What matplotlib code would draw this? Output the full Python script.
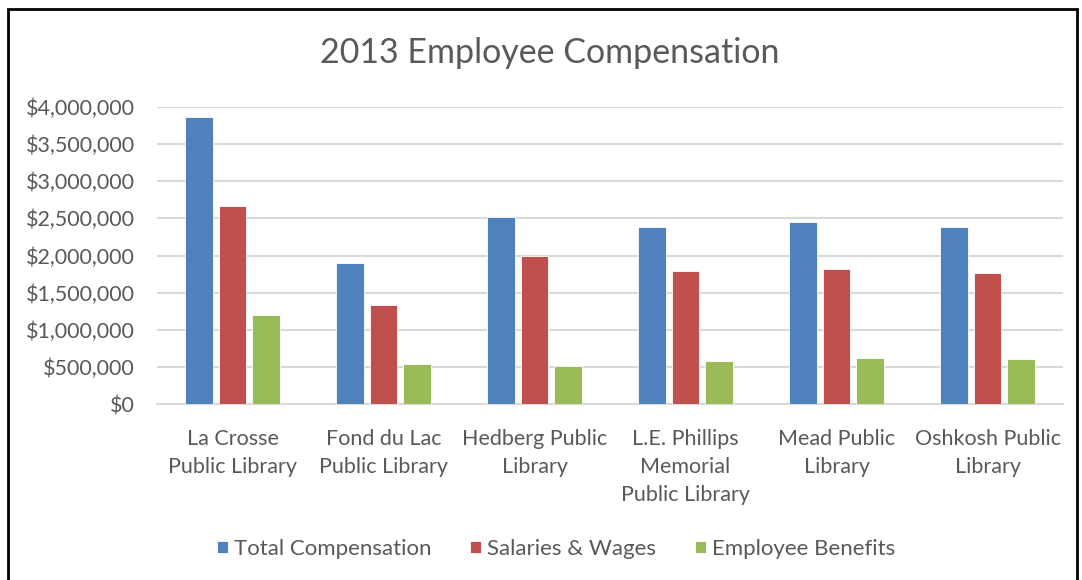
import numpy as np
import matplotlib.pyplot as plt
from matplotlib.patches import Rectangle
from matplotlib.ticker import FuncFormatter

libraries = ["La Crosse\nPublic Library", "Fond du Lac\nPublic Library", "Hedberg Public\nLibrary",
             "L.E. Phillips\nMemorial\nPublic Library", "Mead Public\nLibrary", "Oshkosh Public\nLibrary"]
total_comp = [3866000, 1895000, 2513000, 2387000, 2446000, 2387000]
salaries = [2661000, 1335000, 2000000, 1788000, 1818000, 1765000]
benefits = [1204000, 546000, 511000, 586000, 618000, 609000]
series_names = ["Total Compensation", "Salaries & Wages", "Employee Benefits"]
colors = ["#4F81BD", "#C0504D", "#9BBB59"]

plt.rcParams['font.family'] = ['Lato', 'DejaVu Sans']
txt = "#595959"

fig = plt.figure(figsize=(10.82, 5.8), dpi=100)
ax = fig.add_axes([157/1082, 1-404.3/580, 906/1082, (404.3-106.7)/580])

x = np.arange(len(libraries))
pitch = 0.22
for i, (vals, name, c) in enumerate(zip([total_comp, salaries, benefits], series_names, colors)):
    ax.bar(x + (i-1)*pitch, vals, width=0.185, color=c, edgecolor="white", linewidth=0.6, label=name, zorder=3)

ax.set_xlim(-0.5, len(libraries)-0.5)
ax.set_ylim(0, 4000000)
ax.set_yticks(np.arange(0, 4000001, 500000))
ax.yaxis.set_major_formatter(FuncFormatter(lambda v, p: f"${v:,.0f}"))
ax.set_xticks(x)
ax.set_xticklabels(libraries, linespacing=1.5)
ax.tick_params(length=0, labelsize=15.5, colors=txt)
ax.tick_params(axis='y', pad=16)
ax.tick_params(axis='x', pad=18)
ax.grid(axis='y', color="#D9D9D9", linewidth=1.5, zorder=0)
for s in ["top", "right", "left"]:
    ax.spines[s].set_visible(False)
ax.spines["bottom"].set_color("#D9D9D9")
ax.spines["bottom"].set_linewidth(1.5)

fig.text(550/1082, 1-53/580, "2013 Employee Compensation", ha="center", va="center", fontsize=24.5, color=txt)

leg = fig.legend(loc="center", bbox_to_anchor=(556/1082, 1-549/580), ncol=3, frameon=False,
                 fontsize=16, handlelength=0.5, handleheight=0.5, handletextpad=0.25, columnspacing=1.75)
for t in leg.get_texts():
    t.set_color(txt)

fig.patches.append(Rectangle((8/1082, -0.05), 1069/1082, 1.05-9/580, transform=fig.transFigure,
                             fill=False, edgecolor="black", linewidth=2))

fig.savefig("out.png", dpi=100)
